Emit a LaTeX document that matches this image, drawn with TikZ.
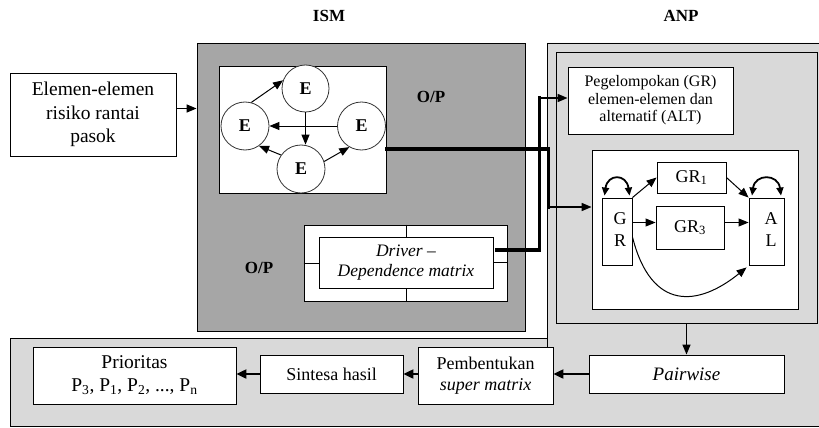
\documentclass[tikz,border=0pt]{standalone}
\usepackage{fontspec}
\setmainfont{Liberation Serif}
\usetikzlibrary{arrows.meta,calc}
\definecolor{ismgray}{RGB}{166,166,166}
\definecolor{anpgray}{RGB}{217,217,217}

\begin{document}
\begin{tikzpicture}[x=1pt,y=-1pt,
  frame/.style={draw=black, line width=0.9pt},
  panel/.style={frame, inner sep=0pt},
  box/.style={frame, fill=white, inner sep=0pt, align=center},
  ecircle/.style={circle, draw=black!80, line width=0.8pt, fill=white, inner sep=0pt,
    minimum size=48pt, font=\fontsize{18}{20}\selectfont\bfseries},
  title/.style={font=\fontsize{17}{19}\selectfont\bfseries},
  oplabel/.style={font=\fontsize{17}{20}\selectfont\bfseries},
  arr/.style={-{Triangle[length=10pt,width=8pt]}, line width=1pt},
  bigarr/.style={-{Triangle[length=10pt,width=9pt]}, line width=2.2pt},
  heavy/.style={line width=3.8pt, line cap=rect},
  dbl/.style={{Triangle[length=8pt,width=7pt]}-{Triangle[length=8pt,width=7pt]}, line width=1.8pt},
  txt18/.style={font=\fontsize{18}{22}\selectfont}
]
\useasboundingbox (0,0) rectangle (819,428);

% light gray ANP area joined with the bottom band
\fill[anpgray] (547,43) -- (822,43) -- (822,426.5) -- (10,426.5) -- (10,338) -- (547,338) -- cycle;
\draw[frame] (547,360) -- (547,43) -- (822,43);
\draw[frame] (822,426.5) -- (10,426.5) -- (10,338) -- (547,338);

% titles
\node[title] (ismtitle) at (329,16) {ISM};
\node[title] (anptitle) at (681,16) {ANP};

% input elements
\node[box, minimum width=166pt, minimum height=83pt, font=\fontsize{19.5}{23.5}\selectfont]
  (elem) at (93,114.5) {Elemen-elemen\\risiko rantai\\pasok};

% ISM block
\node[panel, fill=ismgray, minimum width=328pt, minimum height=288pt] (ism) at (361,187) {};
\node[box, minimum width=167pt, minimum height=127pt] (ismnet) at (302.5,129.5) {};

\node[ecircle, minimum size=47pt] (Etop) at (305.5,88.5) {E};
\node[ecircle] (Eleft) at (245,126) {E};
\node[ecircle] (Eright) at (361.5,126) {E};
\node[ecircle] (Ebot) at (301,169) {E};

\draw[arr] (Eleft.75) -- (Etop.160);
\draw[arr] (Etop.south) -- (Etop.south |- Ebot.north);
\draw[arr] (Eright.west) -- (Eleft.east);
\draw[arr] (Ebot.145) -- (Eleft.-55);
\draw[arr] (Ebot.18) -- (Eright.-120);

\node[oplabel] (op1) at (431,97) {O/P};
\node[oplabel] (op2) at (259,268) {O/P};

% driver - dependence matrix
\node[box, minimum width=203pt, minimum height=76pt] (drvbox) at (405.5,263) {};
\node[box, minimum width=174pt, minimum height=51pt, font=\fontsize{17.5}{20.5}\selectfont\itshape]
  (drv) at (406,262.5) {Driver --\\Dependence matrix};
\draw[frame] (drvbox.north -| drv.north) -- (drv.north);
\draw[frame] (drv.south) -- (drvbox.south -| drv.south);
\draw[frame] (drvbox.west) -- (drvbox.west -| drv.west);
\draw[frame] (drv.east) -- (drv.east -| drvbox.east);

% ANP block
\node[panel, fill=anpgray, minimum width=261pt, minimum height=271pt] (anpin) at (686.5,187.5) {};
\node[box, minimum width=165pt, minimum height=67pt, font=\fontsize{16}{17.5}\selectfont]
  (pegel) at (650.5,100.5) {Pegelompokan (GR)\\elemen-elemen dan\\alternatif (ALT)};
\node[box, minimum width=206pt, minimum height=159pt] (anpnet) at (695,229.5) {};

\node[box, minimum width=30pt, minimum height=67pt] (GR) at (617,231.5) {};
\node[txt18, align=center] (GRtxt) at (620,229.5) {G\\R};
\node[box, minimum width=69pt, minimum height=31pt, txt18] (GR1) at (691.5,177.5) {GR\textsubscript{1}};
\node[box, minimum width=68pt, minimum height=43pt, txt18] (GR3) at (690,227.5) {GR\textsubscript{3}};
\node[box, minimum width=35pt, minimum height=67pt] (AL) at (766.5,231.5) {};
\node[txt18, align=center] (ALtxt) at (771,229.5) {A\\L};

\draw[dbl] ([xshift=-12.5pt,yshift=2pt]GR.north) .. controls +(3,-22) and +(-3,-22) .. ([xshift=12.5pt,yshift=2pt]GR.north);
\draw[dbl] ([xshift=-14.5pt,yshift=2pt]AL.north) .. controls +(3,-22) and +(-3,-22) .. ([xshift=14.5pt,yshift=2pt]AL.north);

\path ([yshift=5pt]GR3.west) coordinate (g3in);
\path ([yshift=5pt]GR3.east) coordinate (g3out);
\draw[arr] (GR.north east) -- (GR1.west);
\draw[arr] (GR1.east) -- (AL.north west);
\draw[arr] (g3in -| GR.east) -- (g3in);
\draw[arr] (g3out) -- (g3out -| AL.west);
\path ([yshift=-5.5pt]GR.east) coordinate (grlow);
\path ([xshift=-2pt,yshift=-2pt]AL.south west) coordinate (allow);
\draw[arr] (grlow) .. controls +(19,75) and +(-48,39) .. (allow);

% bottom row
\node[box, minimum width=203pt, minimum height=57pt, font=\fontsize{19.5}{23}\selectfont]
  (prior) at (134.5,375.5) {Prioritas\\P\textsubscript{3}, P\textsubscript{1}, P\textsubscript{2}, ..., P\textsubscript{n}};
\node[box, minimum width=143pt, minimum height=38pt, txt18] (sintesa) at (331.5,374) {Sintesa hasil};
\node[box, minimum width=135pt, minimum height=57pt, font=\fontsize{18}{21.5}\selectfont]
  (pemb) at (485.5,375.5) {Pembentukan\\\textit{super matrix}};
\node[box, minimum width=195pt, minimum height=38pt, font=\fontsize{19}{22}\selectfont\itshape]
  (pairwise) at (686.5,374) {Pairwise};

\draw[arr, line width=1.4pt] (anpin.south) -- (pairwise.north);
\draw[bigarr] (pairwise.west) -- (pairwise.west -| pemb.east);
\draw[bigarr] (sintesa.east -| pemb.west) -- (sintesa.east);
\draw[bigarr] (sintesa.west) -- (sintesa.west -| prior.east);

% input arrow into ISM
\path ([yshift=6pt]elem.east) coordinate (elemout);
\draw[arr, line width=1.5pt] (elemout) -- (elemout -| ism.west);

% heavy output lines from ISM to ANP
\path ([yshift=-19.5pt]ismnet.east) coordinate (ismout);
\path ([yshift=22.5pt]anpnet.west) coordinate (netin);
\path ([xshift=-43pt]netin) coordinate (turnA);
\draw[heavy] (ismout) -| (turnA);
\draw[arr, line width=1.6pt] (turnA) -- (netin);

\path ([xshift=3pt,yshift=12.5pt]drv.east) coordinate (drvout);
\path ([xshift=-28pt,yshift=2.5pt]pegel.west) coordinate (turnB);
\draw[heavy] (drvout) -| (turnB);
\draw[arr, line width=1.6pt] (turnB) -- (turnB -| pegel.west);
\end{tikzpicture}
\end{document}
